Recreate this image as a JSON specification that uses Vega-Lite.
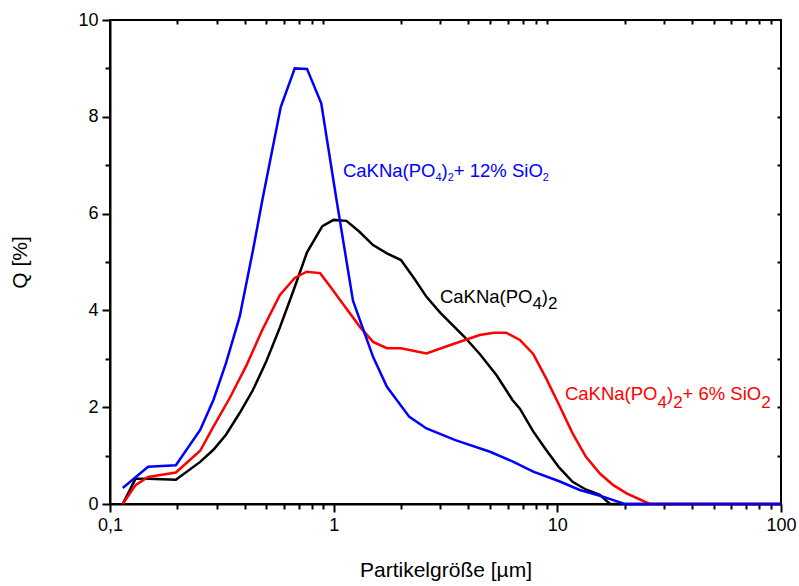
{
  "$schema": "https://vega.github.io/schema/vega-lite/v6.json",
  "autosize": {"type": "none"},
  "width": 671,
  "height": 484,
  "padding": {"left": 110, "top": 20, "right": 18, "bottom": 82},
  "background": "white",
  "config": {
    "view": {"stroke": "black", "strokeWidth": 2},
    "font": "Liberation Sans",
    "axis": {
      "domainColor": "black", "domainWidth": 2, "tickColor": "black", "tickWidth": 2,
      "labelFont": "Liberation Sans", "labelFontSize": 18, "labelColor": "black",
      "titleFont": "Liberation Sans", "titleFontSize": 21, "titleFontWeight": "normal", "titleColor": "black",
      "grid": false
    }
  },
  "datasets": {
    "curves": [
      {"s": "K", "x": 0.114, "q": 0},
      {"s": "K", "x": 0.13, "q": 0.52},
      {"s": "K", "x": 0.148, "q": 0.52},
      {"s": "K", "x": 0.197, "q": 0.5},
      {"s": "K", "x": 0.253, "q": 0.87},
      {"s": "K", "x": 0.29, "q": 1.12},
      {"s": "K", "x": 0.33, "q": 1.43},
      {"s": "K", "x": 0.38, "q": 1.88},
      {"s": "K", "x": 0.435, "q": 2.35},
      {"s": "K", "x": 0.5, "q": 2.95},
      {"s": "K", "x": 0.575, "q": 3.65},
      {"s": "K", "x": 0.66, "q": 4.4},
      {"s": "K", "x": 0.76, "q": 5.2},
      {"s": "K", "x": 0.89, "q": 5.74},
      {"s": "K", "x": 1.0, "q": 5.87},
      {"s": "K", "x": 1.14, "q": 5.85},
      {"s": "K", "x": 1.3, "q": 5.63},
      {"s": "K", "x": 1.5, "q": 5.35},
      {"s": "K", "x": 1.73, "q": 5.18},
      {"s": "K", "x": 2.0, "q": 5.04},
      {"s": "K", "x": 2.3, "q": 4.65},
      {"s": "K", "x": 2.6, "q": 4.28},
      {"s": "K", "x": 3.0, "q": 3.95},
      {"s": "K", "x": 3.83, "q": 3.46},
      {"s": "K", "x": 4.5, "q": 3.1},
      {"s": "K", "x": 5.35, "q": 2.66},
      {"s": "K", "x": 6.3, "q": 2.15},
      {"s": "K", "x": 6.8, "q": 1.97},
      {"s": "K", "x": 7.8, "q": 1.5},
      {"s": "K", "x": 8.9, "q": 1.12},
      {"s": "K", "x": 10.2, "q": 0.75},
      {"s": "K", "x": 11.7, "q": 0.46},
      {"s": "K", "x": 13.4, "q": 0.3},
      {"s": "K", "x": 15.5, "q": 0.19},
      {"s": "K", "x": 17.2, "q": 0},
      {"s": "K", "x": 100, "q": 0},
      {"s": "R", "x": 0.114, "q": 0},
      {"s": "R", "x": 0.13, "q": 0.39},
      {"s": "R", "x": 0.148, "q": 0.56},
      {"s": "R", "x": 0.197, "q": 0.65},
      {"s": "R", "x": 0.253, "q": 1.1},
      {"s": "R", "x": 0.29, "q": 1.6},
      {"s": "R", "x": 0.344, "q": 2.2},
      {"s": "R", "x": 0.408, "q": 2.87},
      {"s": "R", "x": 0.48, "q": 3.6},
      {"s": "R", "x": 0.575, "q": 4.32},
      {"s": "R", "x": 0.67, "q": 4.67},
      {"s": "R", "x": 0.757, "q": 4.8},
      {"s": "R", "x": 0.87, "q": 4.77},
      {"s": "R", "x": 0.98, "q": 4.45},
      {"s": "R", "x": 1.07, "q": 4.21},
      {"s": "R", "x": 1.31, "q": 3.66},
      {"s": "R", "x": 1.5, "q": 3.35},
      {"s": "R", "x": 1.73, "q": 3.22},
      {"s": "R", "x": 2.0, "q": 3.22},
      {"s": "R", "x": 2.6, "q": 3.11},
      {"s": "R", "x": 3.3, "q": 3.28},
      {"s": "R", "x": 4.5, "q": 3.49},
      {"s": "R", "x": 5.2, "q": 3.54},
      {"s": "R", "x": 5.9, "q": 3.54},
      {"s": "R", "x": 6.8, "q": 3.39},
      {"s": "R", "x": 7.8, "q": 3.1},
      {"s": "R", "x": 8.9, "q": 2.6},
      {"s": "R", "x": 10.2, "q": 2.04},
      {"s": "R", "x": 11.7, "q": 1.46},
      {"s": "R", "x": 13.4, "q": 0.98},
      {"s": "R", "x": 15.5, "q": 0.63},
      {"s": "R", "x": 17.8, "q": 0.39},
      {"s": "R", "x": 20.4, "q": 0.22},
      {"s": "R", "x": 25.9, "q": 0},
      {"s": "R", "x": 100, "q": 0},
      {"s": "B", "x": 0.114, "q": 0.33},
      {"s": "B", "x": 0.148, "q": 0.77},
      {"s": "B", "x": 0.197, "q": 0.8},
      {"s": "B", "x": 0.253, "q": 1.53},
      {"s": "B", "x": 0.29, "q": 2.15},
      {"s": "B", "x": 0.33, "q": 2.91},
      {"s": "B", "x": 0.38, "q": 3.87},
      {"s": "B", "x": 0.436, "q": 5.25},
      {"s": "B", "x": 0.48, "q": 6.28},
      {"s": "B", "x": 0.58, "q": 8.2},
      {"s": "B", "x": 0.67, "q": 9.0},
      {"s": "B", "x": 0.76, "q": 8.99},
      {"s": "B", "x": 0.88, "q": 8.28},
      {"s": "B", "x": 1.03, "q": 6.28},
      {"s": "B", "x": 1.22, "q": 4.2},
      {"s": "B", "x": 1.5, "q": 3.04},
      {"s": "B", "x": 1.73, "q": 2.42},
      {"s": "B", "x": 2.18, "q": 1.8},
      {"s": "B", "x": 2.6, "q": 1.56},
      {"s": "B", "x": 3.5, "q": 1.32},
      {"s": "B", "x": 5.0, "q": 1.08},
      {"s": "B", "x": 6.3, "q": 0.88},
      {"s": "B", "x": 7.8, "q": 0.67},
      {"s": "B", "x": 10.2, "q": 0.47},
      {"s": "B", "x": 12.6, "q": 0.29},
      {"s": "B", "x": 15.5, "q": 0.17},
      {"s": "B", "x": 17.8, "q": 0.08},
      {"s": "B", "x": 20, "q": 0},
      {"s": "B", "x": 100, "q": 0}
    ],
    "mainText": [
      {"s": "B", "x": 1.1005, "q": 6.756, "t": "CaKNa(PO"},
      {"s": "B", "x": 3.036, "q": 6.756, "t": ")"},
      {"s": "B", "x": 3.446, "q": 6.756, "t": "+ 12% SiO"},
      {"s": "K", "x": 2.987, "q": 4.159, "t": "CaKNa(PO"},
      {"s": "K", "x": 8.528, "q": 4.159, "t": ")"},
      {"s": "R", "x": 10.813, "q": 2.149, "t": "CaKNa(PO"},
      {"s": "R", "x": 30.90, "q": 2.149, "t": ")"},
      {"s": "R", "x": 36.28, "q": 2.149, "t": "+ 6% SiO"}
    ],
    "smallSub": [
      {"s": "B", "x": 2.851, "q": 6.674, "t": "4"},
      {"s": "B", "x": 3.236, "q": 6.674, "t": "2"},
      {"s": "B", "x": 8.603, "q": 6.674, "t": "2"}
    ],
    "largeSub": [
      {"s": "K", "x": 7.739, "q": 4.039, "t": "4"},
      {"s": "K", "x": 9.085, "q": 4.039, "t": "2"},
      {"s": "R", "x": 28.02, "q": 1.983, "t": "4"},
      {"s": "R", "x": 32.94, "q": 1.983, "t": "2"},
      {"s": "R", "x": 81.55, "q": 1.983, "t": "2"}
    ]
  },
  "resolve": {"axis": {"x": "independent", "y": "independent"}},
  "layer": [
    {
      "data": {"name": "curves"},
      "mark": {"type": "line", "strokeWidth": 2.5, "interpolate": "linear"},
      "encoding": {
        "x": {
          "field": "x", "type": "quantitative",
          "scale": {"type": "log", "domain": [0.1, 100], "nice": false},
          "axis": {
            "orient": "bottom",
            "title": "Partikelgröße [µm]",
            "titlePadding": 25,
            "values": [0.1,0.2,0.3,0.4,0.5,0.6,0.7,0.8,0.9,1,2,3,4,5,6,7,8,9,10,20,30,40,50,60,70,80,90,100],
            "labelExpr": "abs(log(datum.value)/LN10 - round(log(datum.value)/LN10)) < 0.001 ? (datum.value < 0.5 ? '0,1' : format(datum.value, 'd')) : ''",
            "tickSize": {"condition": {"test": "abs(log(datum.value)/LN10 - round(log(datum.value)/LN10)) < 0.001", "value": 8}, "value": 5},
            "labelPadding": 4,
            "labelFlush": false,
            "labelOverlap": false
          }
        },
        "y": {
          "field": "q", "type": "quantitative",
          "scale": {"domain": [0, 10], "nice": false},
          "axis": {
            "orient": "left",
            "title": "Q [%]",
            "titlePadding": 47,
            "values": [0,1,2,3,4,5,6,7,8,9,10],
            "labelExpr": "datum.value % 2 == 0 ? datum.label : ''",
            "tickSize": {"condition": {"test": "datum.value % 2 == 0", "value": 8}, "value": 5},
            "labelPadding": 4
          }
        },
        "color": {
          "field": "s", "type": "nominal",
          "scale": {"domain": ["K", "R", "B"], "range": ["#000000", "#ff0000", "#0000ff"]},
          "legend": null
        }
      }
    },
    {
      "data": {"name": "mainText"},
      "mark": {"type": "text", "align": "left", "baseline": "alphabetic", "fontSize": 18.5, "font": "Liberation Sans"},
      "encoding": {
        "x": {
          "field": "x", "type": "quantitative",
          "scale": {"type": "log", "domain": [0.1, 100], "nice": false},
          "axis": {
            "orient": "top", "title": null, "labels": false, "domain": false,
            "values": [0.2,0.3,0.4,0.5,0.6,0.7,0.8,0.9,2,3,4,5,6,7,8,9,20,30,40,50,60,70,80,90],
            "tickSize": -4
          }
        },
        "y": {
          "field": "q", "type": "quantitative",
          "scale": {"domain": [0, 10], "nice": false},
          "axis": {
            "orient": "right", "title": null, "labels": false, "domain": false,
            "values": [1,2,3,4,5,6,7,8,9],
            "tickSize": -4
          }
        },
        "text": {"field": "t"},
        "color": {
          "field": "s", "type": "nominal",
          "scale": {"domain": ["K", "R", "B"], "range": ["#000000", "#ff0000", "#0000ff"]},
          "legend": null
        }
      }
    },
    {
      "data": {"name": "smallSub"},
      "mark": {"type": "text", "align": "left", "baseline": "alphabetic", "fontSize": 11, "font": "Liberation Sans"},
      "encoding": {
        "x": {"field": "x", "type": "quantitative", "scale": {"type": "log", "domain": [0.1, 100], "nice": false}, "axis": null},
        "y": {"field": "q", "type": "quantitative", "scale": {"domain": [0, 10], "nice": false}, "axis": null},
        "text": {"field": "t"},
        "color": {
          "field": "s", "type": "nominal",
          "scale": {"domain": ["K", "R", "B"], "range": ["#000000", "#ff0000", "#0000ff"]},
          "legend": null
        }
      }
    },
    {
      "data": {"name": "largeSub"},
      "mark": {"type": "text", "align": "left", "baseline": "alphabetic", "fontSize": 17, "font": "Liberation Sans"},
      "encoding": {
        "x": {"field": "x", "type": "quantitative", "scale": {"type": "log", "domain": [0.1, 100], "nice": false}, "axis": null},
        "y": {"field": "q", "type": "quantitative", "scale": {"domain": [0, 10], "nice": false}, "axis": null},
        "text": {"field": "t"},
        "color": {
          "field": "s", "type": "nominal",
          "scale": {"domain": ["K", "R", "B"], "range": ["#000000", "#ff0000", "#0000ff"]},
          "legend": null
        }
      }
    }
  ]
}
